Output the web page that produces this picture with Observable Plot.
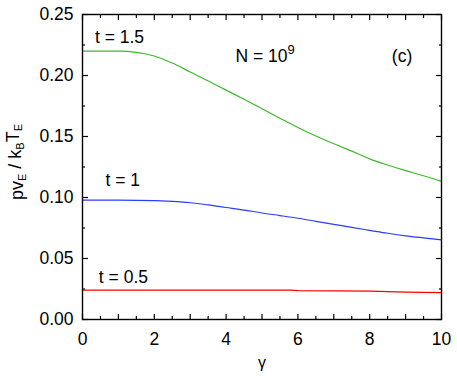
<!DOCTYPE html>
<html><head><meta charset="utf-8">
<script src="https://cdn.jsdelivr.net/npm/d3@7"></script>
<script src="https://cdn.jsdelivr.net/npm/@observablehq/plot@0.6"></script>
<style>body{margin:0;background:#fff;} svg{font-family:"Liberation Sans",Arial,sans-serif;}</style>
</head><body><div id="chart"></div>
<script>
const gammaGreen = [0, 1, 1.5, 2, 2.5, 3, 3.5, 4, 4.5, 5, 5.5, 6, 6.5, 7, 7.5, 8, 8.5, 9, 9.5, 10];
const valGreen   = [0.2200, 0.2200, 0.2190, 0.2160, 0.2102, 0.2029, 0.1955, 0.1880, 0.1805, 0.1728, 0.1650, 0.1574, 0.1504, 0.1440, 0.1380, 0.1317, 0.1266, 0.1220, 0.1178, 0.1132];
const gammaBlue  = [0, 1, 2, 2.5, 3, 3.5, 4, 4.5, 5, 5.5, 6, 6.5, 7, 7.5, 8, 8.5, 9, 9.5, 10];
const valBlue    = [0.0978, 0.0978, 0.0975, 0.0968, 0.0957, 0.0939, 0.0918, 0.0897, 0.0873, 0.0852, 0.0830, 0.0805, 0.0780, 0.0755, 0.0731, 0.0707, 0.0686, 0.0669, 0.0653];
const gammaRed   = [0, 5.8, 6, 8, 9, 10];
const valRed     = [0.024, 0.024, 0.0237, 0.0233, 0.0225, 0.022];

const xMajor = [0,1,2,3,4,5,6,7,8,9,10];
const xMinor = [0.5,1.5,2.5,3.5,4.5,5.5,6.5,7.5,8.5,9.5];
const xLabels = [0,2,4,6,8,10];
const yMajor = [0,0.05,0.10,0.15,0.20,0.25];
const yMinor = [0.025,0.075,0.125,0.175,0.225];

const labels = [
  {g: 1.03, v: 0.231, text: "t = 1.5"},
  {g: 1.12, v: 0.114, text: "t = 1"},
  {g: 1.14, v: 0.0344, text: "t = 0.5"},
  {g: 8.9, v: 0.216, text: "(c)"}
];

const toRows = (gs, vs) => gs.map((g, i) => ({g, v: vs[i]}));
const green = toRows(gammaGreen, valGreen);
const blue = toRows(gammaBlue, valBlue);
const red = toRows(gammaRed, valRed);

const FS = 17.5;
const tickStyle = {stroke: "#000", strokeWidth: 1.2, tickFormat: () => ""};

const plot = Plot.plot({
  width: 457, height: 380,
  marginLeft: 82, marginRight: 16, marginTop: 14, marginBottom: 61,
  style: {fontFamily: '"Liberation Sans", Arial, sans-serif', fontSize: FS + "px", color: "#000", background: "#fff"},
  x: {domain: [0, 10], label: null},
  y: {domain: [0, 0.25], label: null},
  marks: [
    Plot.axisX(xMajor, {anchor: "bottom", tickSize: -5, ...tickStyle}),
    Plot.axisX(xMinor, {anchor: "bottom", tickSize: -3, ...tickStyle}),
    Plot.axisX(xMajor, {anchor: "top", tickSize: -5, ...tickStyle}),
    Plot.axisX(xMinor, {anchor: "top", tickSize: -3, ...tickStyle}),
    Plot.axisY(yMajor, {anchor: "left", tickSize: -6, ...tickStyle}),
    Plot.axisY(yMinor, {anchor: "left", tickSize: -3, ...tickStyle}),
    Plot.axisY(yMajor, {anchor: "right", tickSize: -6, ...tickStyle}),
    Plot.axisY(yMinor, {anchor: "right", tickSize: -3, ...tickStyle}),
    Plot.axisX(xLabels, {anchor: "bottom", tickSize: 0, tickPadding: 13, fontSize: FS, tickFormat: d => String(d)}),
    Plot.axisY(yMajor, {anchor: "left", tickSize: 0, tickPadding: 9, fontSize: FS, tickFormat: d3.format(".2f")}),
    Plot.line(red, {x: "g", y: "v", stroke: "#ff0000", strokeWidth: 1.2}),
    Plot.line(blue, {x: "g", y: "v", stroke: "#2b3bff", strokeWidth: 1.2, curve: "monotone-x"}),
    Plot.line(green, {x: "g", y: "v", stroke: "#3cb82a", strokeWidth: 1.2, curve: "monotone-x"}),
    Plot.text(labels, {x: "g", y: "v", text: "text", fontSize: FS, fill: "#000"}),
    Plot.text(["γ"], {frameAnchor: "bottom", dy: 48, fontSize: 16, fill: "#000"}),
    Plot.frame({stroke: "#000", strokeWidth: 1.4})
  ]
});

const svg = d3.select(plot);
// N = 10^9 annotation
const nt = svg.append("text")
  .attr("x", plot.scale("x").apply(5.1))
  .attr("y", plot.scale("y").apply(0.216))
  .attr("text-anchor", "middle").attr("dy", "0.35em")
  .attr("font-size", FS).attr("fill", "#000");
nt.append("tspan").text("N = 10");
nt.append("tspan").attr("dy", "-0.55em").attr("font-size", 13).text("9");

// y-axis label pv_E / k_B T_E
const yl = svg.append("text")
  .attr("transform", "translate(23,162) rotate(-90)")
  .attr("text-anchor", "middle")
  .attr("font-size", 18).attr("fill", "#000");
yl.append("tspan").text("pv");
yl.append("tspan").attr("dy", "0.3em").attr("font-size", 11).text("E");
yl.append("tspan").attr("dy", "-0.3em").text(" / k");
yl.append("tspan").attr("dy", "0.3em").attr("font-size", 11).text("B");
yl.append("tspan").attr("dy", "-0.3em").text("T");
yl.append("tspan").attr("dy", "0.3em").attr("font-size", 11).text("E");

document.getElementById("chart").appendChild(plot);
</script></body></html>
